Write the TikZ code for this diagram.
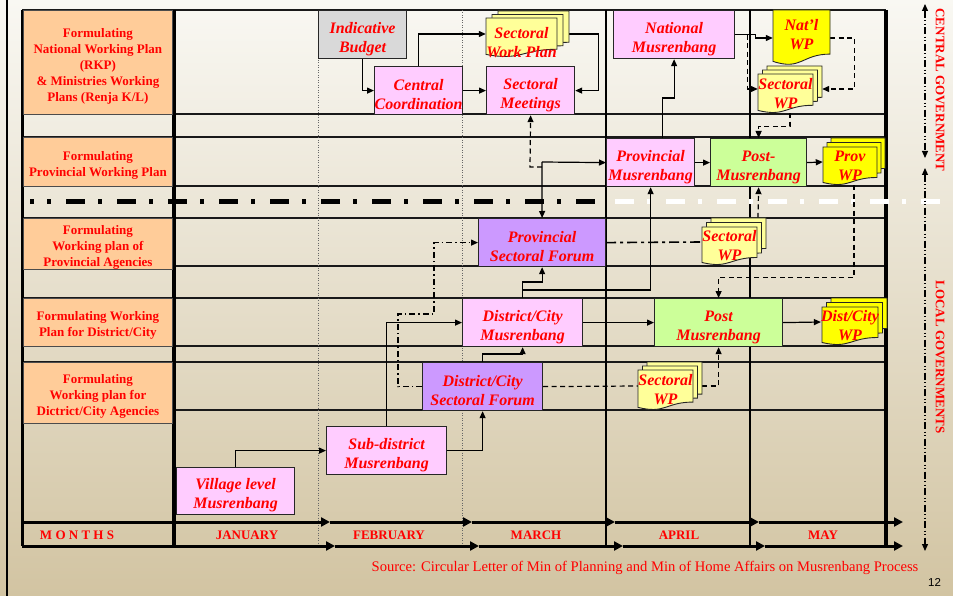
\documentclass[tikz,border=0pt]{standalone}
\usepackage{fontspec}
\setmainfont{Liberation Serif}
\newfontfamily\arialf{Liberation Sans}
\usetikzlibrary{arrows.meta}
\definecolor{pinkbox}{HTML}{FFCCFF}
\definecolor{purplebox}{HTML}{CC99FF}
\definecolor{greenbox}{HTML}{CCFF99}
\definecolor{graybox}{HTML}{D9D9D9}
\definecolor{orangebox}{HTML}{FFCC99}
\definecolor{paleyel}{HTML}{FFFF99}
\definecolor{brightyel}{HTML}{FFFF00}
\definecolor{bgtop}{HTML}{F9F8F3}
\definecolor{bgbot}{HTML}{D2C4A2}
\definecolor{txtred}{HTML}{FF0000}
\pgfdeclarelayer{bg}
\pgfsetlayers{bg,main}
\newcommand{\docone}[5]{%
  \begin{scope}[shift={(#1,#2)}, x=#3pt, y=-#4pt]
    \filldraw[fill=#5, draw=black!85, line width=0.9pt] (0,0) -- (1,0) -- (1,0.802)
      .. controls (0.5,0.802) and (0.5,1.107) .. (0,0.934) -- cycle;
  \end{scope}}
\newcommand{\bs}{\rule{0pt}{19.5pt}}
\newcommand{\ls}{\rule{0pt}{16pt}}
\begin{document}
\begin{tikzpicture}[x=1pt,y=-1pt,
  box/.style={draw=black!85, line width=1.2pt, inner sep=0pt, anchor=north west, align=center,
    text=txtred, font=\bfseries\itshape\fontsize{16}{19}\selectfont},
  lbl/.style={draw=black!70, line width=0.8pt, fill=orangebox, inner sep=0pt, anchor=north west,
    minimum width=149pt, align=center, text=txtred, font=\bfseries\fontsize{13}{16}\selectfont},
  doct/.style={inner sep=0pt, align=center, text=txtred, font=\bfseries\itshape\fontsize{16}{19}\selectfont},
  mon/.style={text=txtred, font=\bfseries\fontsize{13}{15}\selectfont},
  arr/.style={line width=1.2pt, -{Triangle[length=7pt,width=6pt]}},
  dsh/.style={dash pattern=on 5pt off 3.5pt},
  ddot/.style={dash pattern=on 6pt off 3pt on 1.5pt off 3pt},
  rowline/.style={line width=1.1pt, black!90},
  axisarr/.style={line width=3pt, -{Triangle[length=9pt,width=9pt]}},
  govarr/.style={line width=1.2pt, dash pattern=on 7pt off 2.5pt on 1pt off 2.5pt on 1pt off 2.5pt,
    {Triangle[length=7pt,width=6pt]}-{Triangle[length=7pt,width=6pt]}},
]
\useasboundingbox (0,0) rectangle (953,596);

% ---------- background layer: grid ----------
\begin{pgfonlayer}{bg}
\shade[top color=bgtop, bottom color=bgbot] (0,0) rectangle (953,596);
\draw[line width=2pt] (7,0) -- (7,596);
\foreach \yy in {10,114,137,186,218,266,298,346,362} \draw[rowline] (22,\yy) -- (886,\yy);
\draw[rowline] (174,410) -- (886,410);
\draw[rowline] (22,423) -- (174,423);
% month dividers
\draw[black!60, line width=0.9pt, dash pattern=on 1pt off 1.5pt] (318,10) -- (318,546);
\draw[black!60, line width=0.9pt, dash pattern=on 1pt off 1.5pt] (462,10) -- (462,546);
\draw[line width=2pt] (606,10) -- (606,546);
\draw[line width=2pt] (750,10) -- (750,546);
\draw[line width=3pt] (22,10) -- (22,546);
\draw[line width=4pt] (174,10) -- (174,546);
\draw[line width=4pt] (886,10) -- (886,546);
% central / local separator
\draw[line width=5pt, dash pattern=on 19pt off 13pt on 4pt off 15pt, dash phase=15pt] (30,202) -- (598,202);
\draw[white, line width=5pt, dash pattern=on 19pt off 13pt on 4pt off 15pt] (615,202) -- (942,202);
% month axis
\coordinate (u0) at (22,522); \coordinate (u1) at (330,522); \coordinate (u2) at (472,522);
\coordinate (u3) at (615,522); \coordinate (u4) at (759,522); \coordinate (u5) at (903,522);
\coordinate (w0) at (22,546); \coordinate (w1) at (335,546); \coordinate (w2) at (479,546);
\coordinate (w3) at (623,546); \coordinate (w4) at (765,546); \coordinate (w5) at (903,546);
\draw[axisarr] (u0) -- (u1); \draw[axisarr] (u1) -- (u2); \draw[axisarr] (u2) -- (u3);
\draw[axisarr] (u3) -- (u4); \draw[axisarr] (u4) -- (u5);
\draw[axisarr] (w0) -- (w1); \draw[axisarr] (w1) -- (w2); \draw[axisarr] (w2) -- (w3);
\draw[axisarr] (w3) -- (w4); \draw[axisarr] (w4) -- (w5);
% government arrows
\coordinate (ga) at (925,4); \coordinate (gb) at (925,158);
\coordinate (gc) at (925,168); \coordinate (gd) at (925,551);
\draw[govarr] (ga) -- (gb);
\draw[govarr] (gc) -- (gd);
\end{pgfonlayer}

% ---------- row labels ----------
\node[lbl, minimum height=104pt] (L1) at (23,10) {\ls Formulating\\National Working Plan\\(RKP)\\\& Ministries Working\\Plans (Renja K/L)};
\node[lbl, minimum height=49pt] (L2) at (23,137) {\ls Formulating\\Provincial Working Plan};
\node[lbl, minimum height=48pt] (L3) at (23,218) {\ls Formulating\\Working plan of\\Provincial Agencies};
\node[lbl, minimum height=48pt] (L4) at (23,298) {\ls Formulating Working\\Plan for District/City};
\node[lbl, minimum height=61pt] (L5) at (23,362) {\ls Formulating\\Working plan for\\Dictrict/City Agencies};

% ---------- process boxes ----------
\node[box, fill=graybox, minimum width=88pt, minimum height=48pt] (IB) at (318,10) {\bs Indicative\\Budget};
\node[box, fill=pinkbox, minimum width=88pt, minimum height=48pt] (CC) at (374,66) {\bs Central\\Coordination};
\node[box, fill=pinkbox, minimum width=88pt, minimum height=48pt] (SM) at (486,66) {\bs Sectoral\\Meetings};
\node[box, fill=pinkbox, minimum width=121pt, minimum height=48pt] (NM) at (613,10) {\bs National\\Musrenbang};
\node[box, fill=pinkbox, minimum width=88pt, minimum height=48pt] (PM) at (606,138) {\bs Provincial\\Musrenbang};
\node[box, fill=greenbox, minimum width=96pt, minimum height=48pt] (PMP) at (710,138) {\bs Post-\\Musrenbang};
\node[box, fill=purplebox, minimum width=127pt, minimum height=48pt] (PSF) at (478,218) {\bs Provincial\\Sectoral Forum};
\node[box, fill=pinkbox, minimum width=120pt, minimum height=48pt] (DCM) at (462,298) {\bs District/City\\Musrenbang};
\node[box, fill=greenbox, minimum width=128pt, minimum height=48pt] (PoM) at (654,298) {\bs Post\\Musrenbang};
\node[box, fill=purplebox, minimum width=120pt, minimum height=48pt] (DCSF) at (422,362) {\bs District/City\\Sectoral Forum};
\node[box, fill=pinkbox, minimum width=120pt, minimum height=48pt] (SD) at (326,426) {\bs Sub-district\\Musrenbang};
\node[box, fill=pinkbox, minimum width=118pt, minimum height=47pt] (VL) at (176,467) {\bs Village level\\Musrenbang};

% ---------- documents ----------
\docone{498}{11}{71}{39}{paleyel}
\docone{492}{14.5}{71}{39}{paleyel}
\docone{486}{18}{71}{39}{paleyel}
\node[doct, minimum width=71pt, minimum height=39pt] (SWP) at (521.5,42.5) {Sectoral\\Work Plan};

\docone{773}{10}{57}{55}{brightyel}
\node[doct, minimum width=57pt, minimum height=55pt] (NWP) at (801.5,34.5) {Nat’l\\WP};

\docone{767}{66}{55}{39}{paleyel}
\docone{762.5}{70}{55}{39}{paleyel}
\docone{758}{74}{55}{39}{paleyel}
\node[doct, minimum width=55pt, minimum height=39pt] (SWPc) at (785.5,93.5) {Sectoral\\WP};

\docone{831}{138}{54}{38}{brightyel}
\docone{827}{142.5}{54}{38}{brightyel}
\docone{823}{147}{54}{38}{brightyel}
\node[doct, minimum width=54pt, minimum height=38pt] (PWP) at (850,166) {Prov\\WP};

\docone{831}{298}{56}{38}{brightyel}
\docone{826.5}{302.5}{56}{38}{brightyel}
\docone{822}{307}{56}{38}{brightyel}
\node[doct, minimum width=56pt, minimum height=38pt] (DWP) at (850,326) {Dist/City\\WP};

\docone{711}{218}{55}{38}{paleyel}
\docone{706.5}{222.5}{55}{38}{paleyel}
\docone{702}{227}{55}{38}{paleyel}
\node[doct, minimum width=55pt, minimum height=38pt] (SWPp) at (729.5,246) {Sectoral\\WP};

\docone{647}{362}{55}{40}{paleyel}
\docone{642.5}{366}{55}{40}{paleyel}
\docone{638}{370}{55}{40}{paleyel}
\node[doct, minimum width=55pt, minimum height=40pt] (SWPd) at (665.5,390) {Sectoral\\WP};

% ---------- connectors (behind boxes) ----------
\begin{pgfonlayer}{bg}
\draw[arr] (IB.south) |- (CC.west);
\draw[arr] (CC.east) -- (SM.west);
\draw[arr] (CC.north) |- ([yshift=8.5pt]SWP.west);
\draw[arr] ([xshift=12pt,yshift=8.5pt]SWP.east) -- ++(29,0) |- (SM.east);
\coordinate (J1) at (542,162);
\coordinate (J2) at (542,167);
\draw[arr] (J1) -- (PSF.north);
\draw[arr] (J1) -- (PM.west);
\draw[arr, dsh] (J2) -- (530,167) -- (SM.south);
\draw[arr] (PM.east) -- (PMP.west);
\draw[arr] (PMP.east) -- ([yshift=4pt]PWP.west);
\draw[arr] ([xshift=12pt]PM.north) -- ++(0,-40) -| (NM.south);
\draw[arr] (NM.east) -- ++(20,0) |- ([yshift=-3.5pt]NWP.west);
\draw[arr, dsh] ([xshift=12pt]NM.east) |- ([yshift=4.5pt]SWPc.west);
\draw[arr, dsh] ([yshift=-3.5pt]NWP.east) -- ++(24,0) |- ([xshift=9pt,yshift=4.5pt]SWPc.east);
\draw[arr, dsh] ([xshift=4.5pt]SWPc.south) -- ++(0,13) -| (PMP.north);
\draw[arr, dsh] ([xshift=4pt]PWP.south) -- ++(0,92) -| (PoM.north);
\draw[arr, dsh] ([xshift=28.5pt,yshift=9pt]SWPp.north) -- (PMP.south);
\draw[line width=1.6pt, dash pattern=on 10pt off 4pt on 3pt off 4pt] (PSF.east) -- ([yshift=4pt]SWPp.west);
\draw[arr] (DCM.north) -- ++(0,-16) -| (PSF.south);
\draw[arr] (DCM.north) -- ++(0,-8) -| (PM.south);
\draw[arr] (DCM.east) -- (PoM.west);
\draw[arr] (PoM.east) -- ([yshift=4pt]DWP.west);
\draw[arr] (DCSF.north) -- ++(0,-8) -| (DCM.south);
\draw[line width=1.2pt, dsh] (DCSF.east) -- ([yshift=4pt]SWPd.west);
\draw[arr, dsh] ([xshift=9pt,yshift=4pt]SWPd.east) -| (PoM.south);
\draw[arr, ddot] (DCSF.west) -- ++(-24,0) |- (434,314) |- (PSF.west);
\draw[arr] (SD.north) |- (DCM.west);
\draw[arr] (SD.east) -| (DCSF.south);
\draw[arr] (VL.north) |- (SD.west);
\end{pgfonlayer}

% ---------- months & texts ----------
\node[mon] (m0) at (77,535) {M O N T H S};
\node[mon] (m1) at (247,535) {JANUARY};
\node[mon] (m2) at (389,535) {FEBRUARY};
\node[mon] (m3) at (536,535) {MARCH};
\node[mon] (m4) at (679,535) {APRIL};
\node[mon] (m5) at (823,535) {MAY};
\node[text=txtred, font=\fontsize{14.6}{17}\selectfont] (src) at (645,568) {Source: Circular Letter of Min of Planning and Min of Home Affairs on Musrenbang Process};
\node[font=\arialf\fontsize{11.5}{13}\selectfont] (pg) at (934.5,582) {12};
\node[rotate=-90, text=txtred, font=\bfseries\fontsize{13}{15}\selectfont] (cg) at (940,90) {CENTRAL GOVERNMENT};
\node[rotate=-90, text=txtred, font=\bfseries\fontsize{13}{15}\selectfont] (lg) at (940,357) {LOCAL GOVERNMENTS};
\end{tikzpicture}
\end{document}
